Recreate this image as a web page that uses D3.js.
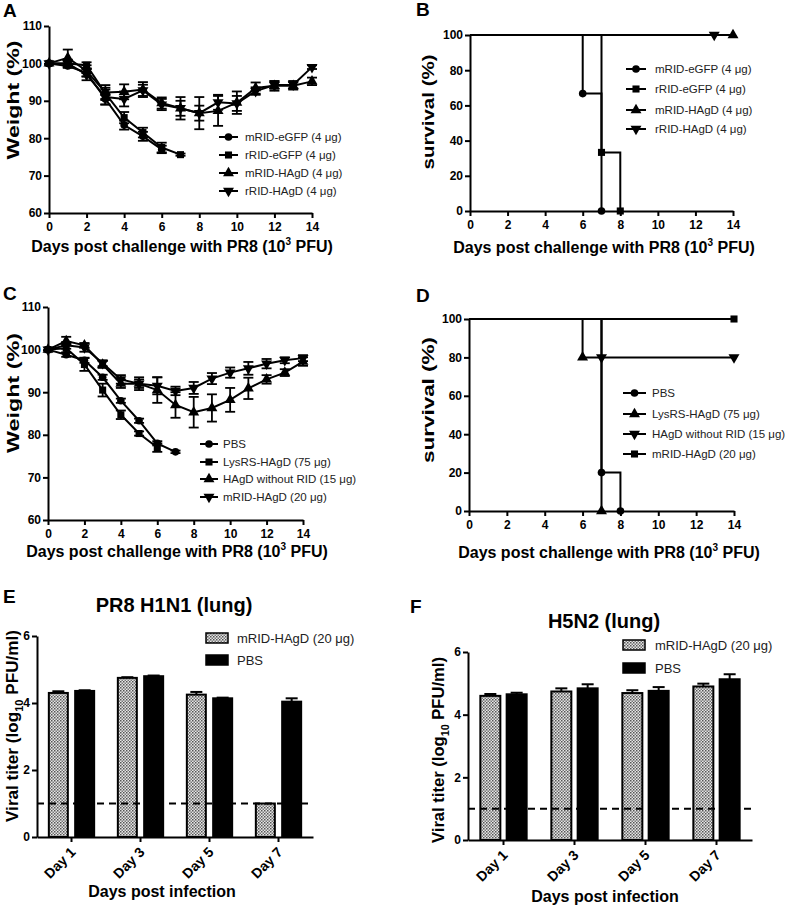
<!DOCTYPE html>
<html><head><meta charset="utf-8">
<script src="https://cdn.jsdelivr.net/npm/d3@7"></script>
<style>body{margin:0;background:#fff}</style>
</head><body><svg id="c" width="800" height="907"></svg>
<script>
const FONT = '"Liberation Sans", Arial, Helvetica, sans-serif';
const svg = d3.select('#c').attr('font-family', FONT);

// ================= DATA =================
const dayTicks = [0, 2, 4, 6, 8, 10, 12, 14];
const weightTicks = [60, 70, 80, 90, 100, 110];
const survTicks = [0, 20, 40, 60, 80, 100];
const titerTicks = [0, 2, 4, 6];

// Panel A – weight (%)
const aNames = ["mRID-eGFP (4 μg)", "rRID-eGFP (4 μg)", "mRID-HAgD (4 μg)", "rRID-HAgD (4 μg)"];
const aMarkers = ["circle", "square", "triUp", "triDown"];
const aMRIDeGFP = [100, 99.3, 97.5, 90.5, 83.5, 80.5, 77];
const aMRIDeGFPErr = [0, 0.5, 1, 1.5, 1.2, 1.2, 1];
const aRRIDeGFP = [100, 100, 99.5, 92, 85.5, 81.5, 77.5, 75.6];
const aRRIDeGFPErr = [0, 0.5, 0.8, 1.5, 1.5, 1.3, 1.3, 0.3];
const aMRIDHAgD = [100, 101.5, 98, 92.2, 92.4, 93, 89.4, 88, 86.7, 87.3, 89.5, 93.4, 94, 94, 95.2];
const aMRIDHAgDErr = [0, 2.2, 1.5, 2, 2, 2, 1.5, 3, 4.3, 4, 3, 1.5, 1.3, 1, 1];
const aRRIDHAgD = [100, 100, 97, 91, 90.5, 92.8, 89, 88, 86.7, 89.6, 89.3, 92.6, 94.2, 94.3, 99];
const aRRIDHAgDErr = [0, 1, 1.5, 2, 2, 1.5, 1.5, 2, 2, 2, 2, 1, 1, 1, 0.5];

// Panel B – survival (%)
const bNames = aNames;
const bMarkers = aMarkers;
const bMRIDeGFPt = [0, 6, 7], bMRIDeGFPs = [100, 66.7, 0];
const bRRIDeGFPt = [0, 7, 8], bRRIDeGFPs = [100, 33.3, 0];
const bMRIDHAgDt = [0, 14], bMRIDHAgDs = [100, 100];
const bRRIDHAgDt = [0, 13], bRRIDHAgDs = [100, 100];

// Panel C – weight (%)
const cNames = ["PBS", "LysRS-HAgD (75 μg)", "HAgD without RID (15 μg)", "mRID-HAgD (20 μg)"];
const cMarkers = ["circle", "square", "triUp", "triDown"];
const cPBS = [100, 98.8, 97.5, 93.5, 88, 83.3, 78, 76];
const cPBSErr = [0, 0.5, 0.6, 0.6, 0.5, 0.5, 0.5, 0.3];
const cLysRS = [100, 100.3, 96.5, 90.5, 84.7, 80.3, 77];
const cLysRSErr = [0, 1, 1.5, 1.5, 1, 0.5, 1];
const cNoRID = [100, 102, 101, 96.5, 92, 92, 90.5, 87, 85.3, 86.3, 88.2, 90.9, 93, 94.6, 97.2];
const cNoRIDErr = [0, 1, 0.5, 0.8, 1, 1, 3, 3, 3.6, 3.2, 2.8, 2.5, 1, 0.8, 1];
const cMRID = [100, 101, 100.5, 96.8, 93, 92, 91.5, 90.3, 91, 93.2, 94.6, 95.6, 96.7, 97.5, 98];
const cMRIDErr = [0, 0.8, 1, 0.7, 1, 1.5, 2, 1, 1.4, 1.3, 1.2, 1.5, 1.1, 0.7, 0.7];

// Panel D – survival (%)
const dNames = ["PBS", "LysRS-HAgD (75 μg)", "HAgD without RID (15 μg)", "mRID-HAgD (20 μg)"];
const dMarkers = ["circle", "triUp", "triDown", "square"];
const dPBSt = [0, 7, 8], dPBSs = [100, 20, 0];
const dLysRSt = [0, 6, 7], dLysRSs = [100, 80, 0];
const dNoRIDt = [0, 7, 14], dNoRIDs = [100, 80, 80];
const dMRIDt = [0, 14], dMRIDs = [100, 100];

// Panels E, F – viral titer (log10 PFU/ml)
const barDays = ["Day 1", "Day 3", "Day 5", "Day 7"];
const barNames = ["mRID-HAgD (20 μg)", "PBS"];
const eVaccine = [4.3, 4.75, 4.25, 1.0];
const eVaccineErr = [0.05, 0.02, 0.08, 0];
const ePBS = [4.36, 4.8, 4.14, 4.04];
const ePBSErr = [0.02, 0.02, 0.02, 0.1];
const fVaccine = [4.6, 4.74, 4.69, 4.9];
const fVaccineErr = [0.06, 0.1, 0.09, 0.09];
const fPBS = [4.65, 4.84, 4.76, 5.13];
const fPBSErr = [0.05, 0.13, 0.12, 0.16];
const detectionLimit = 1;

// ================= HELPERS =================
function symPath(type) {
  if (type === "circle") return d3.symbol(d3.symbolCircle, 46)();
  if (type === "square") return d3.symbol(d3.symbolSquare, 50)();
  return d3.symbol(d3.symbolTriangle, 52)();
}
function drawMarker(g, type, x, y) {
  const p = g.append('path').attr('d', symPath(type)).attr('fill', '#000');
  if (type === "triDown") p.attr('transform', `translate(${x},${y}) rotate(180)`);
  else p.attr('transform', `translate(${x},${y})`);
}
function styleAxis(g) {
  g.attr('font-family', FONT);
  g.select('.domain').attr('stroke-width', 2).attr('stroke', '#000');
  g.selectAll('.tick line').attr('stroke-width', 2).attr('stroke', '#000');
  g.selectAll('.tick text').attr('font-size', 12).attr('font-weight', 'bold').attr('fill', '#000');
}
function letter(txt, x, y) {
  svg.append('text').attr('x', x).attr('y', y).attr('font-size', 19).attr('font-weight', 'bold').text(txt);
}
function xTitleDays(cx, y) {
  const t = svg.append('text').attr('x', cx).attr('y', y).attr('text-anchor', 'middle')
    .attr('font-size', 16).attr('font-weight', 'bold');
  t.append('tspan').text('Days post challenge with PR8 (10');
  t.append('tspan').attr('dy', -7).attr('font-size', 10).text('3');
  t.append('tspan').attr('dy', 7).text(' PFU)');
}
function yTitle(txt, cx, cy, len) {
  svg.append('text').attr('transform', `translate(${cx},${cy}) rotate(-90)`)
    .attr('text-anchor', 'middle').attr('dy', '0.35em')
    .attr('font-size', 16).attr('font-weight', 'bold')
    .attr('textLength', len).attr('lengthAdjust', 'spacingAndGlyphs').text(txt);
}
function legendLines(names, markers, lx1, lx2, tx, ys) {
  const g = svg.append('g');
  names.forEach((n, i) => {
    g.append('line').attr('x1', lx1).attr('x2', lx2).attr('y1', ys[i]).attr('y2', ys[i])
      .attr('stroke', '#000').attr('stroke-width', 2);
    drawMarker(g, markers[i], (lx1 + lx2) / 2, ys[i]);
    g.append('text').attr('x', tx).attr('y', ys[i]).attr('dy', '0.36em')
      .attr('font-size', 11.5).attr('fill', '#222').text(n);
  });
}

function weightPanel(px, py, series) {
  const x = d3.scaleLinear().domain([0, 14]).range(px);
  const y = d3.scaleLinear().domain([60, 110]).range(py);
  svg.append('g').attr('transform', `translate(0,${py[0]})`)
    .call(d3.axisBottom(x).tickValues(dayTicks).tickFormat(d3.format('d')).tickSize(5).tickPadding(4).tickSizeOuter(0)).call(styleAxis);
  svg.append('g').attr('transform', `translate(${px[0]},0)`)
    .call(d3.axisLeft(y).tickValues(weightTicks).tickFormat(d3.format('d')).tickSize(5).tickPadding(2).tickSizeOuter(0)).call(styleAxis);
  const line = d3.line().x((d, i) => x(i)).y(d => y(d));
  const g = svg.append('g');
  series.forEach(s => {
    g.append('path').attr('d', line(s.v)).attr('fill', 'none').attr('stroke', '#000').attr('stroke-width', 2);
  });
  series.forEach(s => {
    s.v.forEach((v, i) => {
      const e = s.e[i];
      if (e > 0) {
        const xx = x(i);
        g.append('line').attr('x1', xx).attr('x2', xx).attr('y1', y(v - e)).attr('y2', y(v + e))
          .attr('stroke', '#000').attr('stroke-width', 1.8);
        [v - e, v + e].forEach(w => g.append('line').attr('x1', xx - 5).attr('x2', xx + 5)
          .attr('y1', y(w)).attr('y2', y(w)).attr('stroke', '#000').attr('stroke-width', 1.8));
      }
      drawMarker(g, s.m, x(i), y(v));
    });
  });
}

function survivalPanel(px, py, series) {
  const x = d3.scaleLinear().domain([0, 14]).range(px);
  const y = d3.scaleLinear().domain([0, 100]).range(py);
  svg.append('g').attr('transform', `translate(0,${py[0]})`)
    .call(d3.axisBottom(x).tickValues(dayTicks).tickFormat(d3.format('d')).tickSize(5).tickPadding(4).tickSizeOuter(0)).call(styleAxis);
  svg.append('g').attr('transform', `translate(${px[0]},0)`)
    .call(d3.axisLeft(y).tickValues(survTicks).tickFormat(d3.format('d')).tickSize(5).tickPadding(2).tickSizeOuter(0)).call(styleAxis);
  const line = d3.line().x(d => x(d[0])).y(d => y(d[1])).curve(d3.curveStepAfter);
  const g = svg.append('g');
  series.forEach(s => {
    const pts = s.t.map((t, i) => [t, s.s[i]]);
    g.append('path').attr('d', line(pts)).attr('fill', 'none').attr('stroke', '#000').attr('stroke-width', 2);
  });
  series.forEach(s => {
    s.t.forEach((t, i) => { if (i > 0) drawMarker(g, s.m, x(t), y(s.s[i])); });
  });
}

function barPanel(px, py, vac, vacErr, pbs, pbsErr, barW, leg) {
  const x = d3.scaleBand().domain(barDays).range(px);
  const y = d3.scaleLinear().domain([0, 6]).range(py);
  const inner = d3.scaleBand().domain(barNames).range([-25, 25]).paddingInner(0.1);
  const g = svg.append('g');
  const sets = [{v: vac, e: vacErr, fill: 'url(#hatch)', n: barNames[0]}, {v: pbs, e: pbsErr, fill: '#000', n: barNames[1]}];
  sets.forEach(s => {
    s.v.forEach((v, i) => {
      const cx = x(barDays[i]) + x.bandwidth() / 2 + inner(s.n) + inner.bandwidth() / 2;
      const top = y(v);
      if (s.e[i] > 0) {
        g.append('line').attr('x1', cx).attr('x2', cx).attr('y1', top).attr('y2', y(v + s.e[i]))
          .attr('stroke', '#000').attr('stroke-width', 2);
        g.append('line').attr('x1', cx - 6).attr('x2', cx + 6).attr('y1', y(v + s.e[i])).attr('y2', y(v + s.e[i]))
          .attr('stroke', '#000').attr('stroke-width', 2);
      }
      g.append('rect').attr('x', cx - barW / 2).attr('y', top).attr('width', barW).attr('height', y(0) - top)
        .attr('fill', s.fill).attr('stroke', '#000').attr('stroke-width', 2);
    });
  });
  // detection limit
  g.append('line').attr('x1', px[0]).attr('x2', px[1]).attr('y1', y(detectionLimit)).attr('y2', y(detectionLimit))
    .attr('stroke', '#000').attr('stroke-width', 2).attr('stroke-dasharray', '7,5');
  const xa = svg.append('g').attr('transform', `translate(0,${py[0]})`)
    .call(d3.axisBottom(x).tickSize(5).tickSizeOuter(0)).call(styleAxis);
  xa.selectAll('.tick text').attr('text-anchor', 'end').attr('dy', 0).attr('y', 0).attr('font-size', 14)
    .attr('transform', 'translate(5,16) rotate(-45)');
  svg.append('g').attr('transform', `translate(${px[0]},0)`)
    .call(d3.axisLeft(y).tickValues(titerTicks).tickFormat(d3.format('d')).tickSize(5).tickPadding(2).tickSizeOuter(0)).call(styleAxis);
  // legend
  barNames.forEach((n, i) => {
    const yy = leg.ys[i];
    svg.append('rect').attr('x', leg.x).attr('y', yy - 5).attr('width', 22).attr('height', 10)
      .attr('fill', i === 0 ? 'url(#hatch)' : '#000').attr('stroke', '#000').attr('stroke-width', 1.5);
    svg.append('text').attr('x', leg.tx).attr('y', yy).attr('dy', '0.36em').attr('font-size', 13).attr('fill', '#222').text(n);
  });
}

// pattern
const defs = svg.append('defs');
const pat = defs.append('pattern').attr('id', 'hatch').attr('patternUnits', 'userSpaceOnUse')
  .attr('width', 3).attr('height', 3);
pat.append('rect').attr('width', 3).attr('height', 3).attr('fill', '#e6e6e6');
pat.append('rect').attr('width', 1.5).attr('height', 1.5).attr('fill', '#555');
pat.append('rect').attr('x', 1.5).attr('y', 1.5).attr('width', 1.5).attr('height', 1.5).attr('fill', '#777');

// ================= PANELS =================
// A
letter('A', 3, 17);
weightPanel([49, 312], [213, 26], [
  {v: aMRIDeGFP, e: aMRIDeGFPErr, m: aMarkers[0]},
  {v: aRRIDeGFP, e: aRRIDeGFPErr, m: aMarkers[1]},
  {v: aMRIDHAgD, e: aMRIDHAgDErr, m: aMarkers[2]},
  {v: aRRIDHAgD, e: aRRIDHAgDErr, m: aMarkers[3]}
]);
legendLines(aNames, aMarkers, 219, 238, 245, [137, 155, 173, 191]);
xTitleDays(182, 252);
yTitle('Weight (%)', 13, 100, 119);

// B
letter('B', 416, 16);
survivalPanel([470, 733], [211, 35], [
  {t: bMRIDeGFPt, s: bMRIDeGFPs, m: bMarkers[0]},
  {t: bRRIDeGFPt, s: bRRIDeGFPs, m: bMarkers[1]},
  {t: bMRIDHAgDt, s: bMRIDHAgDs, m: bMarkers[2]},
  {t: bRRIDHAgDt, s: bRRIDHAgDs, m: bMarkers[3]}
]);
legendLines(bNames, bMarkers, 626, 646, 655, [69, 89, 110, 129]);
xTitleDays(604, 253);
yTitle('survival (%)', 428, 112, 115);

// C
letter('C', 3, 300);
weightPanel([48, 303], [520, 307], [
  {v: cPBS, e: cPBSErr, m: cMarkers[0]},
  {v: cLysRS, e: cLysRSErr, m: cMarkers[1]},
  {v: cNoRID, e: cNoRIDErr, m: cMarkers[2]},
  {v: cMRID, e: cMRIDErr, m: cMarkers[3]}
]);
legendLines(cNames, cMarkers, 200, 218, 223, [444, 462, 479, 497]);
xTitleDays(177, 557);
yTitle('Weight (%)', 13, 393, 120);

// D
letter('D', 416, 302);
survivalPanel([469, 734], [511, 319], [
  {t: dPBSt, s: dPBSs, m: dMarkers[0]},
  {t: dLysRSt, s: dLysRSs, m: dMarkers[1]},
  {t: dNoRIDt, s: dNoRIDs, m: dMarkers[2]},
  {t: dMRIDt, s: dMRIDs, m: dMarkers[3]}
]);
legendLines(dNames, dMarkers, 623, 646, 652, [393, 414, 434, 454]);
xTitleDays(609, 558);
yTitle('survival (%)', 428, 400, 126);

// E
letter('E', 3, 603);
svg.append('text').attr('x', 174).attr('y', 612).attr('text-anchor', 'middle').attr('font-size', 20)
  .attr('font-weight', 'bold').text('PR8 H1N1 (lung)');
barPanel([37, 313], [837, 636], eVaccine, eVaccineErr, ePBS, ePBSErr, 19, {x: 206, tx: 237, ys: [638, 660]});
function titerTitle(cx, cy, len) {
  const t = svg.append('text').attr('transform', `translate(${cx},${cy}) rotate(-90)`)
    .attr('text-anchor', 'middle').attr('dy', '0.35em').attr('font-size', 17).attr('font-weight', 'bold')
    .attr('textLength', len).attr('lengthAdjust', 'spacingAndGlyphs');
  t.append('tspan').text('Viral titer (log');
  t.append('tspan').attr('dy', 5).attr('font-size', 11).text('10');
  t.append('tspan').attr('dy', -5).text(' PFU/ml)');
}
titerTitle(12, 726, 192);
svg.append('text').attr('x', 162).attr('y', 897).attr('text-anchor', 'middle').attr('font-size', 16)
  .attr('font-weight', 'bold').text('Days post infection');

// F
letter('F', 410, 613);
svg.append('text').attr('x', 604).attr('y', 628).attr('text-anchor', 'middle').attr('font-size', 20)
  .attr('font-weight', 'bold').text('H5N2 (lung)');
barPanel([468, 752], [840, 652], fVaccine, fVaccineErr, fPBS, fPBSErr, 20, {x: 623, tx: 655, ys: [645, 668]});
titerTitle(438, 750, 186);
svg.append('text').attr('x', 605).attr('y', 902).attr('text-anchor', 'middle').attr('font-size', 16)
  .attr('font-weight', 'bold').text('Days post infection');
</script></body></html>
